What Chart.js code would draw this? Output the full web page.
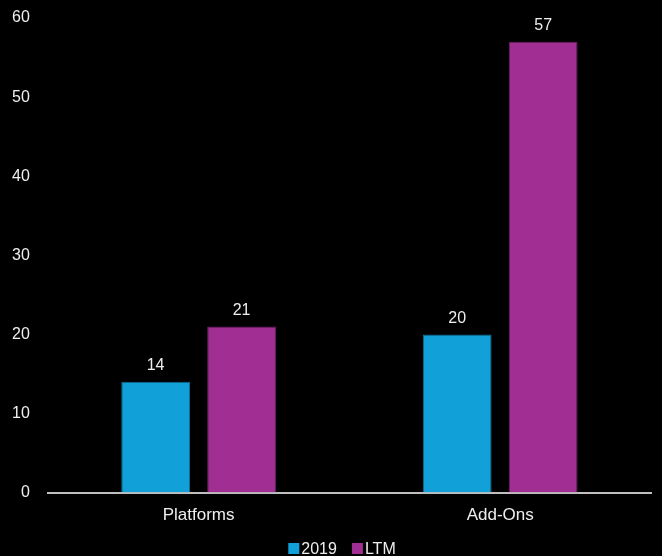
<!DOCTYPE html>
<html>
<head>
<meta charset="utf-8">
<script src="https://cdn.jsdelivr.net/npm/chart.js@4/dist/chart.umd.min.js"></script>
<style>
  html, body { margin: 0; padding: 0; background: #000; }
  #wrap { width: 662px; height: 556px; }
</style>
</head>
<body>
<div id="wrap"><canvas id="myChart"></canvas></div>
<script>
// categories and series
var categories = ["Platforms", "Add-Ons"];
var values2019 = [14, 20];
var valuesLTM = [21, 57];
var yTicks = [0, 10, 20, 30, 40, 50, 60];

var FONT = "'Liberation Sans', Arial, sans-serif";
Chart.defaults.font.family = FONT;
Chart.defaults.color = "#eeeeee";

// value labels over each bar
var barLabels = {
  id: 'barLabels',
  afterDatasetsDraw: function (chart) {
    var ctx = chart.ctx;
    ctx.save();
    ctx.fillStyle = '#eeeeee';
    ctx.font = "16px " + FONT;
    ctx.textAlign = 'center';
    ctx.textBaseline = 'bottom';
    chart.data.datasets.forEach(function (ds, i) {
      chart.getDatasetMeta(i).data.forEach(function (bar, j) {
        ctx.fillText(ds.data[j], bar.x, bar.y - 8);
      });
    });
    ctx.restore();
  }
};

// compact legend under the axis: square box right up against its text
var bottomLegend = {
  id: 'bottomLegend',
  afterDraw: function (chart) {
    var ctx = chart.ctx;
    var box = 11, textGap = 2, itemGap = 15;
    var midX = 342, midY = 548.5;
    ctx.save();
    ctx.font = "16px " + FONT;
    ctx.textBaseline = 'middle';
    ctx.textAlign = 'left';
    var items = chart.data.datasets.map(function (ds) {
      return { text: ds.label, color: ds.backgroundColor, w: ctx.measureText(ds.label).width };
    });
    var total = 0;
    items.forEach(function (it, i) {
      total += box + textGap + it.w + (i ? itemGap : 0);
    });
    var x = midX - total / 2;
    items.forEach(function (it) {
      ctx.fillStyle = it.color;
      ctx.fillRect(x, midY - box / 2, box, box);
      ctx.fillStyle = '#eeeeee';
      ctx.fillText(it.text, x + box + textGap, midY + 1);
      x += box + textGap + it.w + itemGap;
    });
    ctx.restore();
  }
};

var ctx = document.getElementById('myChart').getContext('2d');
var chart = new Chart(ctx, {
  type: 'bar',
  data: {
    labels: categories,
    datasets: [{
      label: "2019",
      data: values2019,
      backgroundColor: 'rgb(17, 160, 215)',
      borderColor: 'rgb(12, 110, 150)',
      borderWidth: 1
    }, {
      label: "LTM",
      data: valuesLTM,
      backgroundColor: 'rgb(160, 46, 147)',
      borderColor: 'rgb(110, 30, 100)',
      borderWidth: 1
    }]
  },
  options: {
    responsive: true,
    maintainAspectRatio: false,
    animation: false,
    layout: { padding: { top: 0, right: 11, left: -6, bottom: 17 } },
    categoryPercentage: 0.57,
    barPercentage: 0.8,
    plugins: {
      legend: { display: false },
      tooltip: { enabled: false }
    },
    scales: {
      x: {
        grid: { display: false, drawTicks: false },
        border: { display: true, color: '#bfbfbf', width: 2 },
        ticks: { color: '#eeeeee', font: { size: 17 }, padding: 13 }
      },
      y: {
        min: 0,
        max: 60,
        afterBuildTicks: function (axis) {
          axis.ticks = yTicks.map(function (v) { return { value: v }; });
        },
        // keep the wide label gap from also pushing the plot top down
        afterFit: function (axis) {
          axis.paddingTop = 18;
        },
        grid: { display: false, drawTicks: false },
        border: { display: false },
        ticks: { color: '#eeeeee', font: { size: 16 }, padding: 18 }
      }
    }
  },
  plugins: [barLabels, bottomLegend]
});
</script>
</body>
</html>
